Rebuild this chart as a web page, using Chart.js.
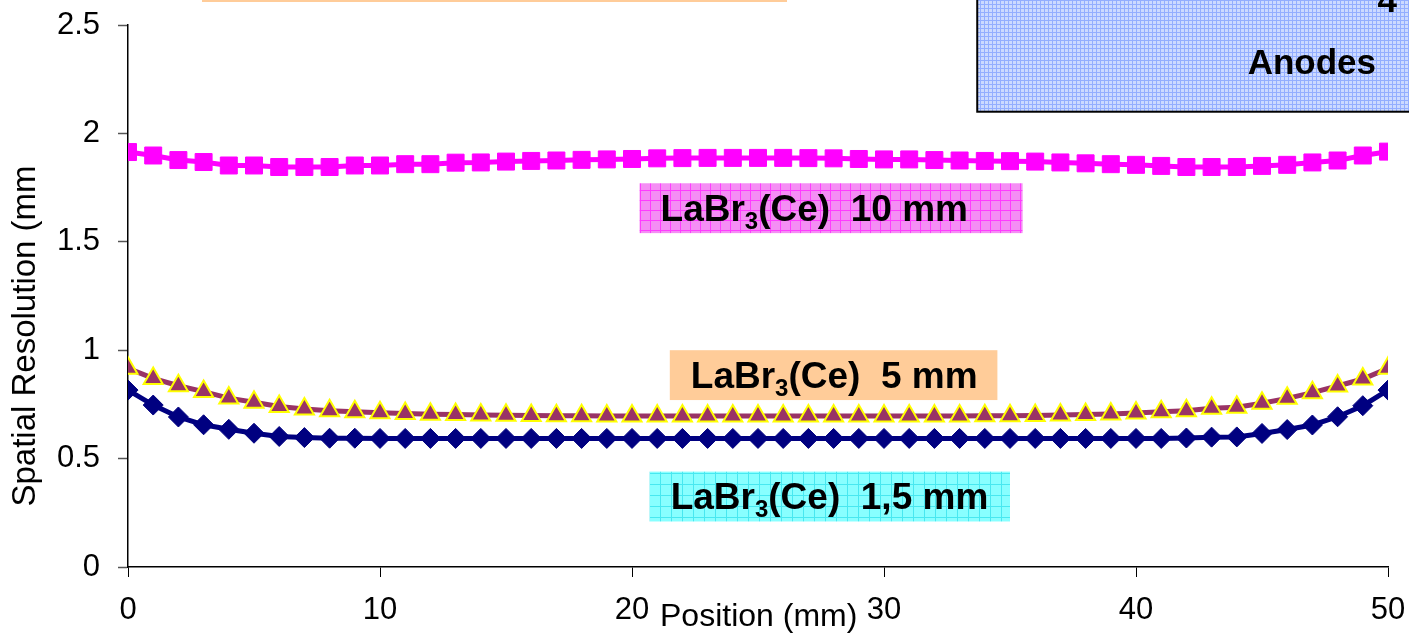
<!DOCTYPE html>
<html lang="en">
<head>
  <meta charset="UTF-8">
  <title>Spatial Resolution vs Position</title>
  <script src="https://cdn.jsdelivr.net/npm/chart.js"></script>
  <style>
    body {
      margin: 0;
      background: #fff;
    }
    canvas {
      display: block;
    }
  </style>
</head>
<body>
  <canvas id="chart" width="1409" height="642"></canvas>
  <script>
  // position along the crystal (mm)
  const positions = [0, 1, 2, 3, 4, 5, 6, 7, 8, 9, 10, 11, 12, 13, 14, 15, 16, 17, 18, 19, 20,
    21, 22, 23, 24, 25, 26, 27, 28, 29, 30, 31, 32, 33, 34, 35, 36, 37, 38, 39, 40,
    41, 42, 43, 44, 45, 46, 47, 48, 49, 50];

  // spatial resolution (mm)
  const res15 = [0.816, 0.747, 0.692, 0.656, 0.635, 0.617, 0.602, 0.597, 0.594, 0.594,
    0.593, 0.593, 0.593, 0.593, 0.593, 0.593, 0.593, 0.593, 0.593, 0.593,
    0.593, 0.593, 0.593, 0.593, 0.593, 0.593, 0.593, 0.593, 0.593, 0.593,
    0.593, 0.593, 0.593, 0.593, 0.593, 0.593, 0.593, 0.593, 0.593, 0.593,
    0.593, 0.593, 0.595, 0.599, 0.600, 0.616, 0.634, 0.655, 0.693, 0.744, 0.816];
  const res5 = [0.917, 0.870, 0.836, 0.809, 0.779, 0.760, 0.740, 0.729, 0.721, 0.716,
    0.712, 0.708, 0.705, 0.703, 0.701, 0.700, 0.699, 0.698, 0.698, 0.697,
    0.697, 0.697, 0.697, 0.697, 0.697, 0.697, 0.697, 0.697, 0.697, 0.697,
    0.697, 0.697, 0.697, 0.697, 0.698, 0.698, 0.699, 0.701, 0.703, 0.706,
    0.710, 0.716, 0.721, 0.732, 0.737, 0.755, 0.778, 0.804, 0.835, 0.867, 0.917];
  const res10 = [1.914, 1.898, 1.877, 1.868, 1.852, 1.852, 1.845, 1.845, 1.845, 1.852,
    1.852, 1.858, 1.858, 1.865, 1.866, 1.870, 1.873, 1.875, 1.878, 1.880,
    1.882, 1.885, 1.886, 1.887, 1.887, 1.887, 1.887, 1.886, 1.885, 1.882,
    1.880, 1.880, 1.877, 1.875, 1.873, 1.872, 1.870, 1.866, 1.862, 1.858,
    1.855, 1.850, 1.845, 1.845, 1.845, 1.850, 1.855, 1.866, 1.875, 1.898, 1.916];

  const xTicks = [0, 10, 20, 30, 40, 50];
  const yTicks = [0, 0.5, 1, 1.5, 2, 2.5];

  // text boxes inside the plot, placed in data units
  const boxLabels = [
    { thick: "10 mm", x0: 20.3, x1: 35.5, y0: 1.54, y1: 1.77, fill: "magenta" },
    { thick: "5 mm", x0: 21.5, x1: 34.5, y0: 0.77, y1: 1.0, fill: "peach" },
    { thick: "1,5 mm", x0: 20.7, x1: 35.0, y0: 0.21, y1: 0.44, fill: "cyan" }
  ];

  function makePattern(ctx, bg, line, step) {
    const c = document.createElement("canvas");
    c.width = step;
    c.height = step;
    const p = c.getContext("2d");
    p.fillStyle = bg;
    p.fillRect(0, 0, step, step);
    p.fillStyle = line;
    p.fillRect(0, 0, step, 1);
    p.fillRect(0, 0, 1, step);
    return ctx.createPattern(c, "repeat");
  }

  const FONT = "'Liberation Sans', Arial, sans-serif";

  const decorations = {
    id: "decorations",
    afterDatasetsDraw(chart) {
      const ctx = chart.ctx;
      const xs = chart.scales.x, ys = chart.scales.y;
      const fills = {
        magenta: makePattern(ctx, "#F48EF4", "#FF3CFF", 10),
        peach: "#FFCC99",
        cyan: makePattern(ctx, "#88FFFF", "#48E8F0", 11)
      };
      ctx.save();

      // partial box cut off at the top
      ctx.fillStyle = "#FFCC99";
      ctx.fillRect(202, -20, 585, 22);

      // anodes box at top right
      const ax = xs.getPixelForValue(33.7), ay = ys.getPixelForValue(2.1);
      ctx.fillStyle = makePattern(ctx, "#CCDAFF", "#93AEFF", 4);
      ctx.fillRect(ax, -5, 1409 - ax + 5, ay + 5);
      ctx.strokeStyle = "#000";
      ctx.lineWidth = 2;
      ctx.strokeRect(ax, -5, 1409 - ax + 5, ay + 5);
      ctx.fillStyle = "#000";
      ctx.font = "bold 35px " + FONT;
      ctx.textAlign = "right";
      ctx.textBaseline = "alphabetic";
      ctx.fillText("4", 1397, 12);
      ctx.fillText("Anodes", 1376, ay - 38);

      // crystal labels
      boxLabels.forEach(b => {
        const l = xs.getPixelForValue(b.x0), r = xs.getPixelForValue(b.x1);
        const t = ys.getPixelForValue(b.y1), btm = ys.getPixelForValue(b.y0);
        ctx.fillStyle = fills[b.fill];
        ctx.fillRect(l, t, r - l, btm - t);
        ctx.fillStyle = "#000";
        ctx.textAlign = "left";
        let x = l + 21;
        const base = btm - 12;
        ctx.font = "bold 37px " + FONT;
        ctx.fillText("LaBr", x, base);
        x += ctx.measureText("LaBr").width;
        ctx.font = "bold 24px " + FONT;
        ctx.fillText("3", x, base + 8);
        x += ctx.measureText("3").width;
        ctx.font = "bold 37px " + FONT;
        ctx.fillText("(Ce)  " + b.thick, x, base);
      });

      // axis titles
      ctx.font = "32px " + FONT;
      ctx.textAlign = "left";
      ctx.fillText("Position (mm)", 660, 626);
      ctx.font = "33px " + FONT;
      ctx.translate(35, 336);
      ctx.rotate(-Math.PI / 2);
      ctx.textAlign = "center";
      ctx.fillText("Spatial Resolution (mm", 0, 0);
      ctx.restore();
    }
  };

  new Chart(document.getElementById("chart"), {
    type: "line",
    data: {
      labels: positions,
      datasets: [
        {
          label: "LaBr3(Ce) 1,5 mm",
          data: res15,
          borderColor: "#000080",
          borderWidth: 5,
          pointStyle: "rectRot",
          pointRadius: 10,
          pointBackgroundColor: "#000080",
          pointBorderColor: "#000080",
          pointBorderWidth: 1,
          tension: 0
        },
        {
          label: "LaBr3(Ce) 5 mm",
          data: res5,
          borderColor: "#993366",
          borderWidth: 5,
          pointStyle: "triangle",
          pointRadius: 11,
          pointBackgroundColor: "#993366",
          pointBorderColor: "#FFFF00",
          pointBorderWidth: 2,
          tension: 0
        },
        {
          label: "LaBr3(Ce) 10 mm",
          data: res10,
          borderColor: "#FF00FF",
          borderWidth: 5,
          pointStyle: "rect",
          pointRadius: 12,
          pointBackgroundColor: "#FF00FF",
          pointBorderColor: "#FF00FF",
          pointBorderWidth: 1,
          tension: 0
        }
      ]
    },
    options: {
      responsive: false,
      animation: false,
      devicePixelRatio: 1,
      layout: { padding: { left: 0, right: 21, top: 25, bottom: 0 } },
      plugins: {
        legend: { display: false },
        tooltip: { enabled: false }
      },
      scales: {
        x: {
          type: "linear",
          min: 0,
          max: 50,
          afterFit: s => {
            s.height = 75;
            s.paddingLeft = 0;
            s.paddingRight = 0;
          },
          afterBuildTicks: s => { s.ticks = xTicks.map(v => ({ value: v })); },
          ticks: {
            color: "#000",
            font: { family: FONT, size: 31 },
            padding: 15,
            maxRotation: 0
          },
          grid: { drawOnChartArea: false, tickLength: 10, tickColor: "#000", tickWidth: 1 },
          border: { color: "#000", width: 1.5 }
        },
        y: {
          min: 0,
          max: 2.5,
          afterFit: s => {
            s.width = 128;
            s.paddingTop = 0;
            s.paddingBottom = 0;
          },
          afterBuildTicks: s => { s.ticks = yTicks.map(v => ({ value: v })); },
          ticks: {
            color: "#000",
            font: { family: FONT, size: 31 },
            padding: 18,
            callback: v => String(v)
          },
          grid: { drawOnChartArea: false, tickLength: 10, tickColor: "#555", tickWidth: 1.5 },
          border: { color: "#000", width: 1.5 }
        }
      }
    },
    plugins: [decorations]
  });
  </script>
</body>
</html>
